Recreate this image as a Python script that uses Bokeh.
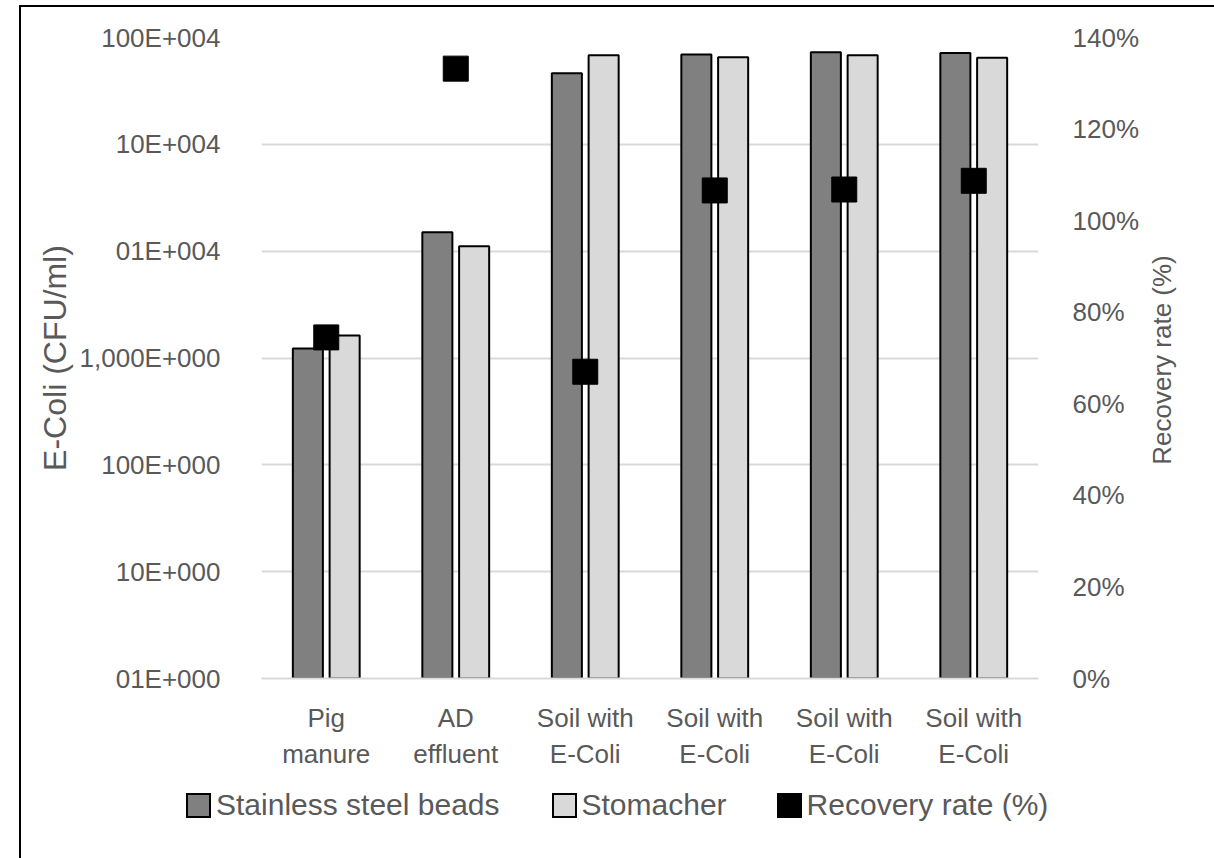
from bokeh.plotting import figure
from bokeh.layouts import column, row
from bokeh.models import (Range1d, LinearAxis, LinearScale, FixedTicker, NumeralTickFormatter,
                          ColumnDataSource, Div)
from bokeh.embed import file_html
from bokeh.resources import INLINE

# ---- data ----
categories = ["Pig\nmanure", "AD\neffluent", "Soil with\nE-Coli", "Soil with\nE-Coli",
              "Soil with\nE-Coli", "Soil with\nE-Coli"]
beads = [1230, 15000, 462000, 695000, 728000, 716000]
stomacher = [1620, 11100, 681000, 653000, 681000, 647000]
recovery = [0.745, 1.332, 0.670, 1.066, 1.068, 1.087]
left_tick_values = [1, 10, 100, 1000, 10000, 100000, 1000000]
left_tick_labels = ["01E+000", "10E+000", "100E+000", "1,000E+000", "01E+004", "10E+004", "100E+004"]
right_tick_values = [0, 0.2, 0.4, 0.6, 0.8, 1.0, 1.2, 1.4]
series_names = ["Stainless steel beads", "Stomacher", "Recovery rate (%)"]
y_title = "E-Coli (CFU/ml)"
y2_title = "Recovery rate (%)"

FONT = "Liberation Sans"
TXT = "#595959"
GRID = "#d9d9d9"
DARK = "#808080"
LIGHT = "#d9d9d9"
MARK = "#000000"

xs = list(range(len(categories)))
OFF = 0.142
W = 0.232

src = ColumnDataSource(dict(
    x=xs,
    xb=[x - OFF for x in xs],
    xs_=[x + OFF for x in xs],
    beads=beads,
    stom=stomacher,
    rec=recovery,
    bottom=[1] * len(xs),
))

# ---------------- main chart ----------------
p = figure(width=1120, height=773, y_axis_type="log",
           x_range=Range1d(-0.5, len(categories) - 0.5),
           y_range=Range1d(1, 1000000),
           output_backend="svg", toolbar_location=None,
           min_border_left=240, min_border_right=100,
           min_border_top=30, min_border_bottom=102)
p.outline_line_color = None
p.background_fill_color = "white"
p.border_fill_color = "white"

p.extra_y_ranges = {"rate": Range1d(0, 1.4)}
p.extra_y_scales = {"rate": LinearScale()}

p.vbar(x="xb", top="beads", bottom="bottom", width=W, source=src,
       fill_color=DARK, line_color="black", line_width=2)
p.vbar(x="xs_", top="stom", bottom="bottom", width=W, source=src,
       fill_color=LIGHT, line_color="black", line_width=2)
p.scatter(x="x", y="rec", y_range_name="rate", source=src, marker="square",
          size=25, fill_color=MARK, line_color=MARK)

yax = p.yaxis[0]
yax.ticker = FixedTicker(ticks=left_tick_values)
yax.major_label_overrides = {v: l for v, l in zip(left_tick_values, left_tick_labels)}
yax.axis_label = y_title

xax = p.xaxis[0]
xax.ticker = FixedTicker(ticks=xs)
xax.major_label_overrides = {i: c for i, c in enumerate(categories)}

rax = LinearAxis(y_range_name="rate", ticker=FixedTicker(ticks=right_tick_values),
                 formatter=NumeralTickFormatter(format="0%"))
p.add_layout(rax, "right")

for ax in (yax, xax, rax):
    ax.major_tick_line_color = None
    ax.minor_tick_line_color = None
    ax.major_label_text_font = FONT
    ax.major_label_text_font_size = "26px"
    ax.major_label_text_color = TXT
    ax.axis_label_text_font = FONT
    ax.axis_label_text_font_style = "normal"
    ax.axis_label_text_color = TXT
yax.axis_label_text_font_size = "32px"
yax.axis_line_color = None
rax.axis_line_color = None
xax.axis_line_color = GRID
xax.axis_line_width = 2
yax.major_label_standoff = 35
yax.axis_label_standoff = 4
rax.major_label_standoff = 28
xax.major_label_standoff = 18

p.xgrid.grid_line_color = None
p.ygrid.grid_line_color = GRID
p.ygrid.grid_line_width = 2
p.ygrid.ticker = FixedTicker(ticks=left_tick_values)

# ---------------- right axis title (reads bottom-to-top) ----------------
rtitle = Div(width=68, height=773, text=(
    '<div style="position:relative;width:68px;height:773px;">'
    '<div style="position:absolute;left:16px;top:348px;'
    'transform:translate(-50%,-50%) rotate(-90deg);white-space:nowrap;'
    f'font-family:\'{FONT}\';font-size:26px;color:{TXT};line-height:1;">'
    f'{y2_title}</div></div>'))

# ---------------- legend strip ----------------
swatches = [(DARK, series_names[0], 0), (LIGHT, series_names[1], 52), (MARK, series_names[2], 50)]
items_html = "".join(
    f'<span style="display:inline-block;box-sizing:border-box;width:25px;height:25px;'
    f'background:{c};border:2px solid black;margin-left:{m}px;margin-right:5px;"></span>'
    f'<span>{name}</span>'
    for c, name, m in swatches)
legend_div = Div(width=1188, height=77, text=(
    '<div style="display:flex;align-items:center;height:20px;padding-left:160px;'
    f'font-family:\'{FONT}\';font-size:30px;color:{TXT};white-space:nowrap;line-height:1;">'
    f'{items_html}</div>'))

page = column(row(p, rtitle, spacing=0), legend_div, spacing=0)
page.styles = {"border-top": "2px solid black", "border-left": "2px solid black",
               "border-right": "2px solid black", "margin-left": "19px", "margin-top": "5px",
               "background": "white"}

open("out.html", "w").write(file_html(page, INLINE))
